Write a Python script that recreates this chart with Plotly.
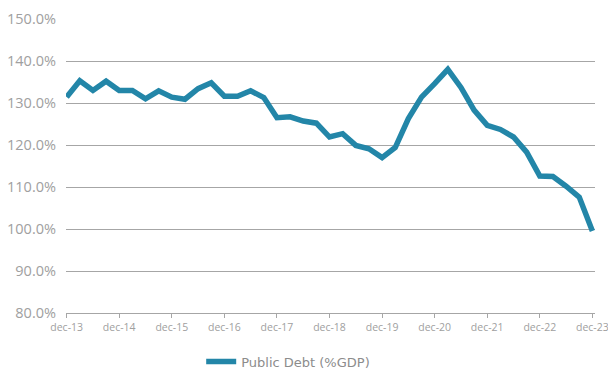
import plotly.graph_objects as go

# Public debt as % of GDP, quarterly from Dec-2013 to Dec-2023
quarter_index = list(range(41))
public_debt = [
    131.4, 135.3, 133.0, 135.2, 133.0, 133.0, 131.0, 132.9, 131.4, 130.9,
    133.4, 134.8, 131.6, 131.6, 132.9, 131.3, 126.5, 126.7, 125.7, 125.2,
    121.9, 122.7, 119.9, 119.1, 117.0, 119.4, 126.3, 131.4, 134.6, 138.0,
    133.7, 128.3, 124.7, 123.7, 121.9, 118.3, 112.6, 112.5, 110.2, 107.6,
    99.5,
]
tick_positions = [0, 4, 8, 12, 16, 20, 24, 28, 32, 36, 40]
tick_labels = ["dec-13", "dec-14", "dec-15", "dec-16", "dec-17", "dec-18",
               "dec-19", "dec-20", "dec-21", "dec-22", "dec-23"]
y_ticks = [80, 90, 100, 110, 120, 130, 140, 150]

LINE_COLOR = "#2386a8"
GRID_COLOR = "#a6a6a6"
TEXT_COLOR = "#a0a0a0"
FONT = "Open Sans, DejaVu Sans, sans-serif"

fig = go.Figure()
fig.add_trace(go.Scatter(
    x=quarter_index,
    y=public_debt,
    mode="lines",
    name="Public Debt (%GDP)",
    line=dict(color=LINE_COLOR, width=5.5, shape="linear"),
))

fig.update_layout(
    width=608,
    height=369,
    margin=dict(l=66, r=13, t=19, b=56, autoexpand=False),
    paper_bgcolor="white",
    plot_bgcolor="white",
    font=dict(family=FONT, color=TEXT_COLOR),
    showlegend=True,
    legend=dict(
        orientation="h",
        xref="container", x=0.474, xanchor="center",
        yref="container", y=0.02, yanchor="middle",
        font=dict(family="DejaVu Sans, sans-serif", size=13, color="#8c8c8c"),
        itemwidth=30,
    ),
    xaxis=dict(
        range=[-0.05, 40.2],
        tickmode="array",
        tickvals=tick_positions,
        ticktext=tick_labels,
        tickfont=dict(size=10.5, color=TEXT_COLOR),
        ticklabeloverflow="allow",
        showgrid=False,
        showline=True,
        linecolor=GRID_COLOR,
        linewidth=1,
        ticks="outside",
        ticklen=4,
        tickcolor=GRID_COLOR,
        zeroline=False,
    ),
    yaxis=dict(
        range=[80, 150],
        tickmode="array",
        tickvals=y_ticks,
        ticktext=[f"{v:.1f}%" for v in y_ticks],
        tickfont=dict(size=14.5, color=TEXT_COLOR),
        showgrid=True,
        gridcolor=GRID_COLOR,
        gridwidth=1,
        zeroline=False,
        showline=False,
        ticks="",
        ticklabelstandoff=9,
    ),
)

fig.write_html("out.html")
